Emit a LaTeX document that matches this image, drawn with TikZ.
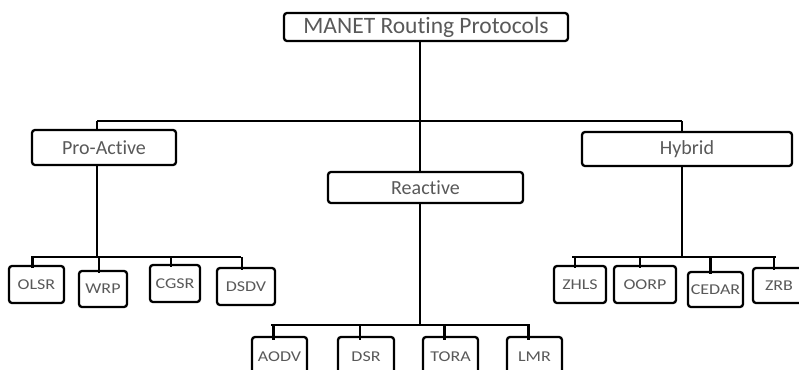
\documentclass[tikz,border=0pt]{standalone}
\usepackage{fontspec}
\setmainfont[Ligatures=NoCommon]{Carlito}
\newfontfamily\childfont[FakeStretch=1.2,Ligatures=NoCommon]{Carlito}
\begin{document}
\begin{tikzpicture}[x=1pt,y=-1pt,
  box/.style={draw=black, line width=2.3pt, rounded corners=3pt, fill=white,
    inner sep=0pt, text=black!65, font=\fontsize{20}{22}\selectfont},
  leaf/.style={box, font=\childfont\fontsize{15}{17}\selectfont},
  conn/.style={draw=black, line width=2.3pt}]
\useasboundingbox (0,0) rectangle (799,369);
\clip (0,0) rectangle (799,369);

% top
\node[box, minimum width=284, minimum height=28, font=\fontsize{23.5}{25}\selectfont] (root) at (426,27) {MANET Routing Protocols};

% second level
\node[box, minimum width=144, minimum height=35] (pro) at (104,147.5) {Pro-Active};
\node[box, minimum width=195, minimum height=31] (rea) at (425.5,187.5) {Reactive};
\node[box, minimum width=210, minimum height=34] (hyb) at (687,149) {Hybrid};

% leaves pro-active
\node[leaf, minimum width=55, minimum height=37] (olsr) at (36.5,284.5) {OLSR};
\node[leaf, minimum width=48, minimum height=36] (wrp) at (103,289) {WRP};
\node[leaf, minimum width=50, minimum height=37] (cgsr) at (175,283.5) {CGSR};
\node[leaf, minimum width=58, minimum height=37] (dsdv) at (246,286.5) {DSDV};

% leaves reactive
\node[leaf, minimum width=55, minimum height=40] (aodv) at (279.5,357) {AODV};
\node[leaf, minimum width=56, minimum height=40] (dsr) at (366,357) {DSR};
\node[leaf, minimum width=55, minimum height=40] (tora) at (450.5,357) {TORA};
\node[leaf, minimum width=55, minimum height=40] (lmr) at (534.5,357) {LMR};

% leaves hybrid
\node[leaf, minimum width=52, minimum height=37] (zhls) at (580,284.5) {ZHLS};
\node[leaf, minimum width=62, minimum height=37] (oorp) at (645,284.5) {OORP};
\node[leaf, minimum width=55, minimum height=35] (cedar) at (715.5,289.5) {CEDAR};
\node[leaf, minimum width=52, minimum height=35] (zrb) at (779,285.5) {ZRB};

% main bar
\coordinate (barL) at (97,121);
\coordinate (barR) at (682,121);
\coordinate (pv) at (97,0);
\coordinate (rv) at (420,0);
\coordinate (hv) at (682,0);
\draw[conn] (barL) -- (barR);
\draw[conn] (rv |- root.south) -- (rv |- barL);
\draw[conn] (barL) -- (pv |- pro.north);
\draw[conn] (rv |- barL) -- (rv |- rea.north);
\draw[conn] (barR) -- (hv |- hyb.north);

% pro-active subtree
\coordinate (pbar) at (0,257);
\draw[conn] (pv |- pro.south) -- (pv |- pbar);
\draw[conn, line cap=rect] ([xshift=-4]olsr.north |- pbar) -- ([xshift=-6]dsdv.north |- pbar);
\foreach \n in {olsr,wrp,cgsr,dsdv}
  \draw[conn] ([xshift=-4]\n.north |- pbar) -- ([xshift=-4,yshift=-3]\n.north);

% reactive subtree
\coordinate (rbar) at (0,325);
\draw[conn] (rv |- rea.south) -- (rv |- rbar);
\draw[conn, line cap=rect] ([xshift=-7]aodv.north |- rbar) -- ([xshift=-6]lmr.north |- rbar);
\foreach \n in {aodv,dsr,tora,lmr}
  \draw[conn] ([xshift=-6]\n.north |- rbar) -- ([xshift=-6,yshift=-4]\n.north);

% hybrid subtree
\coordinate (hbar) at (0,257);
\draw[conn] (hv |- hyb.south) -- (hv |- hbar);
\draw[conn, line cap=rect] ([xshift=-7]zhls.north |- hbar) -- ([xshift=-4]zrb.north |- hbar);
\foreach \n in {zhls,oorp,cedar,zrb}
  \draw[conn] ([xshift=-5]\n.north |- hbar) -- ([xshift=-5,yshift=-3]\n.north);
\end{tikzpicture}
\end{document}
